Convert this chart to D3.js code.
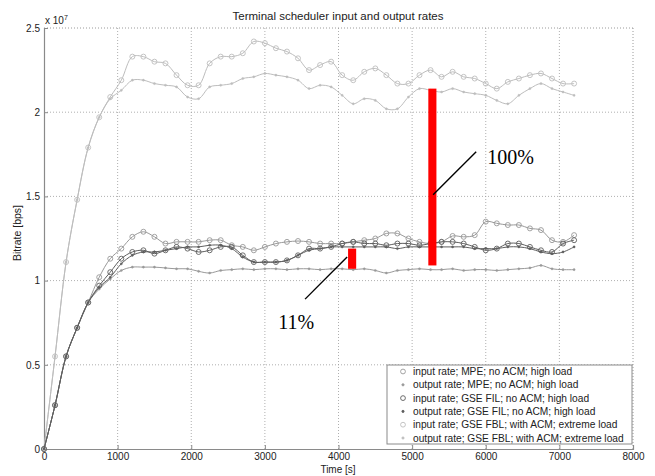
<!DOCTYPE html>
<html>
<head>
<meta charset="utf-8">
<script src="https://cdn.jsdelivr.net/npm/d3@7"></script>
<style>
  body { margin: 0; background: #fff; }
  svg text { font-family: Arial, "Liberation Sans", sans-serif; }
</style>
</head>
<body>
<div id="chart"></div>
<script>
// time axis (s), one sample every 150 s
var times = d3.range(0, 7201, 150);

// bitrates in units of 1e7 bps
var mpeIn = [0, 0.26, 0.55, 0.72, 0.87, 1.02, 1.13, 1.19, 1.26, 1.29, 1.26, 1.22, 1.23, 1.23, 1.23, 1.24, 1.24, 1.21, 1.20, 1.18, 1.20, 1.22, 1.23, 1.235, 1.23, 1.22, 1.22, 1.22, 1.23, 1.24, 1.25, 1.28, 1.28, 1.25, 1.23, 1.22, 1.23, 1.265, 1.26, 1.27, 1.35, 1.34, 1.33, 1.33, 1.31, 1.30, 1.24, 1.23, 1.27];
var mpeOut = [0, 0.26, 0.55, 0.72, 0.87, 0.95, 1.01, 1.06, 1.08, 1.08, 1.08, 1.075, 1.07, 1.07, 1.055, 1.045, 1.06, 1.065, 1.07, 1.065, 1.07, 1.07, 1.065, 1.07, 1.07, 1.065, 1.07, 1.07, 1.065, 1.07, 1.06, 1.045, 1.06, 1.065, 1.07, 1.065, 1.065, 1.07, 1.06, 1.065, 1.065, 1.06, 1.065, 1.07, 1.075, 1.09, 1.07, 1.065, 1.065];
var filIn = [0, 0.26, 0.55, 0.72, 0.87, 0.97, 1.05, 1.13, 1.17, 1.18, 1.16, 1.18, 1.20, 1.19, 1.17, 1.18, 1.20, 1.20, 1.15, 1.11, 1.11, 1.11, 1.12, 1.15, 1.19, 1.19, 1.20, 1.22, 1.23, 1.22, 1.22, 1.21, 1.22, 1.22, 1.21, 1.22, 1.23, 1.23, 1.22, 1.20, 1.18, 1.19, 1.22, 1.22, 1.20, 1.18, 1.17, 1.22, 1.24];
var filOut = [0, 0.26, 0.55, 0.72, 0.87, 0.96, 1.02, 1.10, 1.15, 1.17, 1.17, 1.18, 1.19, 1.20, 1.20, 1.21, 1.21, 1.19, 1.14, 1.11, 1.11, 1.11, 1.12, 1.15, 1.18, 1.19, 1.20, 1.20, 1.20, 1.20, 1.20, 1.20, 1.19, 1.20, 1.20, 1.20, 1.20, 1.20, 1.20, 1.19, 1.19, 1.19, 1.20, 1.20, 1.19, 1.17, 1.16, 1.17, 1.20];
var fblIn = [0, 0.55, 1.11, 1.48, 1.79, 1.97, 2.09, 2.19, 2.33, 2.33, 2.30, 2.29, 2.22, 2.16, 2.16, 2.29, 2.33, 2.33, 2.35, 2.42, 2.41, 2.38, 2.36, 2.32, 2.25, 2.28, 2.30, 2.22, 2.19, 2.24, 2.26, 2.22, 2.17, 2.17, 2.22, 2.25, 2.21, 2.24, 2.21, 2.20, 2.17, 2.14, 2.18, 2.20, 2.22, 2.23, 2.20, 2.17, 2.17];
var fblOut = [0, 0.55, 1.11, 1.48, 1.79, 1.97, 2.08, 2.13, 2.19, 2.19, 2.17, 2.16, 2.15, 2.09, 2.08, 2.15, 2.16, 2.17, 2.20, 2.21, 2.23, 2.22, 2.21, 2.19, 2.14, 2.16, 2.15, 2.10, 2.05, 2.08, 2.07, 2.02, 2.02, 2.09, 2.14, 2.13, 2.12, 2.14, 2.12, 2.11, 2.10, 2.07, 2.05, 2.10, 2.14, 2.17, 2.14, 2.12, 2.10];

var seriesNames = [
  "input rate; MPE; no ACM; high load",
  "output rate; MPE; no ACM; high load",
  "input rate; GSE FIL; no ACM; high load",
  "output rate; GSE FIL; no ACM; high load",
  "input rate; GSE FBL; with ACM; extreme load",
  "output rate; GSE FBL; with ACM; extreme load"
];
var seriesValues = [mpeIn, mpeOut, filIn, filOut, fblIn, fblOut];
var seriesMarker = ["circle", "dot", "circle", "dot", "circle", "dot"];
var seriesColor = ["#999999", "#999999", "#5e5e5e", "#5e5e5e", "#bdbdbd", "#bdbdbd"];

var xTicks = [0, 1000, 2000, 3000, 4000, 5000, 6000, 7000, 8000];
var yTicks = [0, 0.5, 1, 1.5, 2, 2.5];

// red gap bars: [time start, time end, low, high]
var gapBars = [[4130, 4240, 1.07, 1.19], [5220, 5330, 1.09, 2.14]];
// callouts: line from [t, v] to [t, v], label at [t, v]
var callouts = [
  {label: "100%", from: [5285, 1.51], to: [5870, 1.765], at: [6020, 1.695]},
  {label: "11%", from: [4117, 1.14], to: [3546, 0.89], at: [3180, 0.71]}
];

var margin = {top: 28, right: 22, bottom: 27, left: 44},
    width = 655 - margin.left - margin.right,
    height = 476 - margin.top - margin.bottom;

var root = d3.select("#chart")
  .append("svg")
    .attr("width", 655)
    .attr("height", 476);

var svg = root.append("g")
    .attr("transform", "translate(" + margin.left + "," + margin.top + ")");

var x = d3.scaleLinear().domain([0, 8000]).range([0, width]);
var y = d3.scaleLinear().domain([0, 2.5]).range([height, 0]);

// grid
svg.append("g")
  .selectAll("line")
  .data(xTicks.slice(1, -1))
  .enter().append("line")
    .attr("x1", function(d) { return x(d); })
    .attr("x2", function(d) { return x(d); })
    .attr("y1", 0).attr("y2", height)
    .attr("stroke", "#9a9a9a").attr("stroke-width", 0.8)
    .attr("stroke-dasharray", "1,2");
svg.append("g")
  .selectAll("line")
  .data(yTicks.slice(1, -1))
  .enter().append("line")
    .attr("x1", 0).attr("x2", width)
    .attr("y1", function(d) { return y(d); })
    .attr("y2", function(d) { return y(d); })
    .attr("stroke", "#9a9a9a").attr("stroke-width", 0.8)
    .attr("stroke-dasharray", "1,2");
// top and right edge dotted like the rest of the grid
svg.append("line").attr("x1", 0).attr("x2", width).attr("y1", 0).attr("y2", 0)
  .attr("stroke", "#9a9a9a").attr("stroke-dasharray", "1,2");
svg.append("line").attr("x1", width).attr("x2", width).attr("y1", 0).attr("y2", height)
  .attr("stroke", "#9a9a9a").attr("stroke-dasharray", "1,2");

// axes
var xAxis = svg.append("g")
  .attr("transform", "translate(0," + height + ")")
  .call(d3.axisBottom(x).tickValues(xTicks).tickSize(-4).tickPadding(4).tickFormat(d3.format("d")));
var yAxis = svg.append("g")
  .call(d3.axisLeft(y).tickValues(yTicks).tickSize(-4).tickPadding(4).tickFormat(function(d) { return d; }));
[xAxis, yAxis].forEach(function(a) {
  a.select(".domain").attr("stroke", "#8a8a8a").attr("stroke-width", 1.2);
  a.selectAll(".tick line").attr("stroke", "#8a8a8a");
  a.selectAll(".tick text").attr("font-size", 10).attr("fill", "#222");
});

// series
var line = d3.line()
  .x(function(d) { return x(d[0]); })
  .y(function(d) { return y(d[1]); })
  .curve(d3.curveCatmullRom);

var order = [4, 5, 0, 1, 3, 2];
order.forEach(function(i) {
  var pts = times.map(function(t, k) { return [t, seriesValues[i][k]]; });
  var g = svg.append("g");
  g.append("path")
    .datum(pts)
    .attr("fill", "none")
    .attr("stroke", seriesColor[i])
    .attr("stroke-width", 1)
    .attr("d", line);
  g.selectAll("circle")
    .data(pts)
    .enter().append("circle")
      .attr("cx", function(d) { return x(d[0]); })
      .attr("cy", function(d) { return y(d[1]); })
      .attr("r", seriesMarker[i] == "circle" ? 2.5 : 1.1)
      .attr("fill", seriesMarker[i] == "circle" ? "none" : seriesColor[i])
      .attr("stroke", seriesColor[i])
      .attr("stroke-width", seriesMarker[i] == "circle" ? 0.9 : 0.4);
});

// red bars
svg.append("g")
  .selectAll("rect")
  .data(gapBars)
  .enter().append("rect")
    .attr("x", function(d) { return x(d[0]); })
    .attr("width", function(d) { return x(d[1]) - x(d[0]); })
    .attr("y", function(d) { return y(d[3]); })
    .attr("height", function(d) { return y(d[2]) - y(d[3]); })
    .attr("fill", "#ff0000");

// callouts
callouts.forEach(function(c) {
  svg.append("line")
    .attr("x1", x(c.from[0])).attr("y1", y(c.from[1]))
    .attr("x2", x(c.to[0])).attr("y2", y(c.to[1]))
    .attr("stroke", "#000").attr("stroke-width", 1.4);
  svg.append("text")
    .attr("x", x(c.at[0])).attr("y", y(c.at[1]))
    .style("font-family", "'Liberation Serif', 'Times New Roman', serif")
    .attr("font-size", 20)
    .text(c.label);
});

// legend
var legend = svg.append("g")
  .attr("transform", "translate(" + (387 - margin.left) + "," + (365 - margin.top) + ")");
legend.append("rect")
  .attr("width", 245).attr("height", 79)
  .attr("fill", "#fff").attr("stroke", "#8a8a8a").attr("stroke-width", 1);
seriesNames.forEach(function(name, i) {
  var ly = 6.5 + i * 13.3;
  legend.append("circle")
    .attr("cx", 16).attr("cy", ly)
    .attr("r", seriesMarker[i] == "circle" ? 2.4 : 1.1)
    .attr("fill", seriesMarker[i] == "circle" ? "none" : seriesColor[i])
    .attr("stroke", seriesColor[i]).attr("stroke-width", 0.9);
  legend.append("text")
    .attr("x", 26).attr("y", ly + 3.5)
    .attr("font-size", 10.2).attr("fill", "#222")
    .text(name);
});

// title and labels
root.append("text")
  .attr("x", 338).attr("y", 20)
  .attr("text-anchor", "middle").attr("font-size", 11.5).attr("fill", "#222")
  .text("Terminal scheduler input and output rates");
root.append("text")
  .attr("x", 338).attr("y", 473)
  .attr("text-anchor", "middle").attr("font-size", 10).attr("fill", "#222")
  .text("Time [s]");
root.append("text")
  .attr("transform", "translate(21,233) rotate(-90)")
  .attr("text-anchor", "middle").attr("font-size", 10.5).attr("fill", "#222")
  .text("Bitrate [bps]");
var expo = root.append("text")
  .attr("x", 45).attr("y", 24)
  .attr("font-size", 10).attr("fill", "#222");
expo.append("tspan").text("x 10");
expo.append("tspan").attr("dy", -4).attr("font-size", 7).text("7");
</script>
</body>
</html>
